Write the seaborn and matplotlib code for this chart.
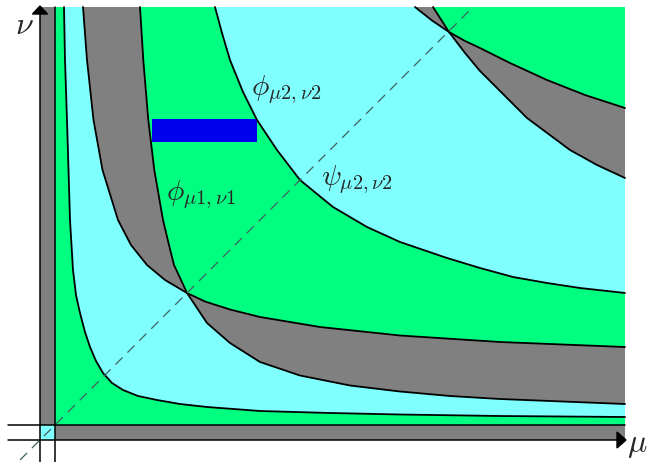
import numpy as np
import pandas as pd
import seaborn as sns
import matplotlib.pyplot as plt
from matplotlib.patches import Polygon

# picture units: mu to the right, nu up, origin at the inner corner of the strips
mu_max, nu_max = 570, 418
strip = 15

# curves (mu, nu)
c1_mu = [9, 10, 12, 13.5, 15, 18, 21, 25, 30, 35, 41, 48, 57, 68, 83, 102, 125, 152, 205, 275, 345, 445, 570]
c1_nu = [418, 365, 305, 255, 205, 155, 130, 112, 93, 78, 64, 52, 42, 35, 29, 25, 21, 18, 14, 12, 10.5, 9, 8]

a_mu = [28, 32, 38.5, 47.5, 63, 76, 92, 110, 132, 150, 175, 205, 265, 345, 445, 570]
a_nu = [418, 365, 305, 255, 205, 180, 160, 145, 132, 123.5, 115.5, 108, 98, 89.5, 83, 78]

# phi_{mu1,nu1}
b_mu = [85, 88.3, 93.3, 99.3, 108, 114, 119, 126, 132, 152, 175, 205, 245, 295, 345, 395, 445, 570]
b_nu = [418, 365, 305, 255, 205, 180, 160, 145, 132, 102, 82, 63, 49.5, 39.5, 33.5, 29, 26, 21]

# phi_{mu2,nu2}
d_mu = [160, 167, 175, 188, 202, 222, 245, 278, 312, 345, 392, 425, 458, 492, 525, 570]
d_nu = [418, 392, 365, 333, 305, 275, 245, 218, 198, 183, 167, 157, 148, 142, 137, 132]

e_mu = [360, 377, 394, 410, 425, 455, 492, 530, 570]
e_nu = [418, 404.5, 393, 384, 377, 362, 345, 330, 317]

f_mu = [378, 394, 410, 425, 445, 472, 515, 542, 570]
f_nu = [418, 393, 372, 354, 334, 307, 275, 260, 247]

band_mu = [97, 202]
band_nu = [283, 306]

GREEN = "#00ff80"
CYAN = "#80ffff"
GRAY = "#808080"
BLUE = "#0000ee"

sns.set_style("white")
plt.rcParams["mathtext.fontset"] = "cm"

fig = plt.figure(figsize=(6.48, 4.62), dpi=100)
ax = fig.add_axes([0, 0, 1, 1])
ax.set_xlim(-55, 593)
ax.set_ylim(-37, 425)
ax.axis("off")


def below(mu, nu):
    # region between the axes and a curve
    return [(0, 0), (0, nu[0])] + list(zip(mu, nu)) + [(mu[-1], 0)]


def fill(pts, color, clip=None):
    p = Polygon(pts, closed=True, facecolor=color, edgecolor="none", lw=0)
    ax.add_patch(p)
    if clip is not None:
        cp = Polygon(clip, closed=True, transform=ax.transData)
        p.set_clip_path(cp)
    return p


fill([(0, 0), (0, nu_max), (mu_max, nu_max), (mu_max, 0)], GREEN)
fill(below(e_mu, e_nu), GRAY)
fill(below(f_mu, f_nu), GRAY)
fill(below(e_mu, e_nu), CYAN, clip=below(f_mu, f_nu))
fill(below(d_mu, d_nu), GREEN)
fill(below(a_mu, a_nu), GRAY)
fill(below(b_mu, b_nu), GRAY)
fill(below(a_mu, a_nu), CYAN, clip=below(b_mu, b_nu))
fill(below(c1_mu, c1_nu), GREEN)

ax.fill_between(band_mu, band_nu[0], band_nu[1], color=BLUE, lw=0)

# strips along the axes
fill([(-strip, 0), (-strip, nu_max), (0, nu_max), (0, 0)], GRAY)
fill([(0, -strip), (0, 0), (mu_max, 0), (mu_max, -strip)], GRAY)
fill([(-strip, -strip), (-strip, 0), (0, 0), (0, -strip)], CYAN)

for mu, nu in [(c1_mu, c1_nu), (a_mu, a_nu), (b_mu, b_nu), (d_mu, d_nu), (e_mu, e_nu), (f_mu, f_nu)]:
    sns.lineplot(x=mu, y=nu, color="black", lw=1.3, estimator=None, sort=False, ax=ax)

# diagonal
sns.lineplot(x=[-35, 418], y=[-35, 418], color="#406060", lw=0.9, estimator=None, ax=ax)
ax.lines[-1].set_linestyle((0, (8, 5.5)))

# axes and guide lines
ax.plot([0, 0], [-37, nu_max], color="black", lw=1.1)
ax.plot([-47, mu_max], [0, 0], color="black", lw=1.1)
ax.plot([-strip, -strip], [-37, 411], color="black", lw=1.1)
ax.plot([-47, 562], [-strip, -strip], color="black", lw=1.1)
ax.add_patch(Polygon([(-22.5, 411), (-7.5, 411), (-15, 419)], color="black"))
ax.add_patch(Polygon([(562, -23), (562, -7), (571, -15)], color="black"))

ax.text(-31, 399, r"$\nu$", fontsize=23, ha="center", va="center")
ax.text(582, -19, r"$\mu$", fontsize=23, ha="center", va="center")
ax.text(196, 335, r"$\phi_{\mu\mathsf{2},\nu\mathsf{2}}$", fontsize=21, ha="left", va="center")
ax.text(111, 230, r"$\phi_{\mu\mathsf{1},\nu\mathsf{1}}$", fontsize=21, ha="left", va="center")
ax.text(266, 245, r"$\psi_{\mu\mathsf{2},\nu\mathsf{2}}$", fontsize=21, ha="left", va="center")

fig.savefig("out.png", dpi=100)
